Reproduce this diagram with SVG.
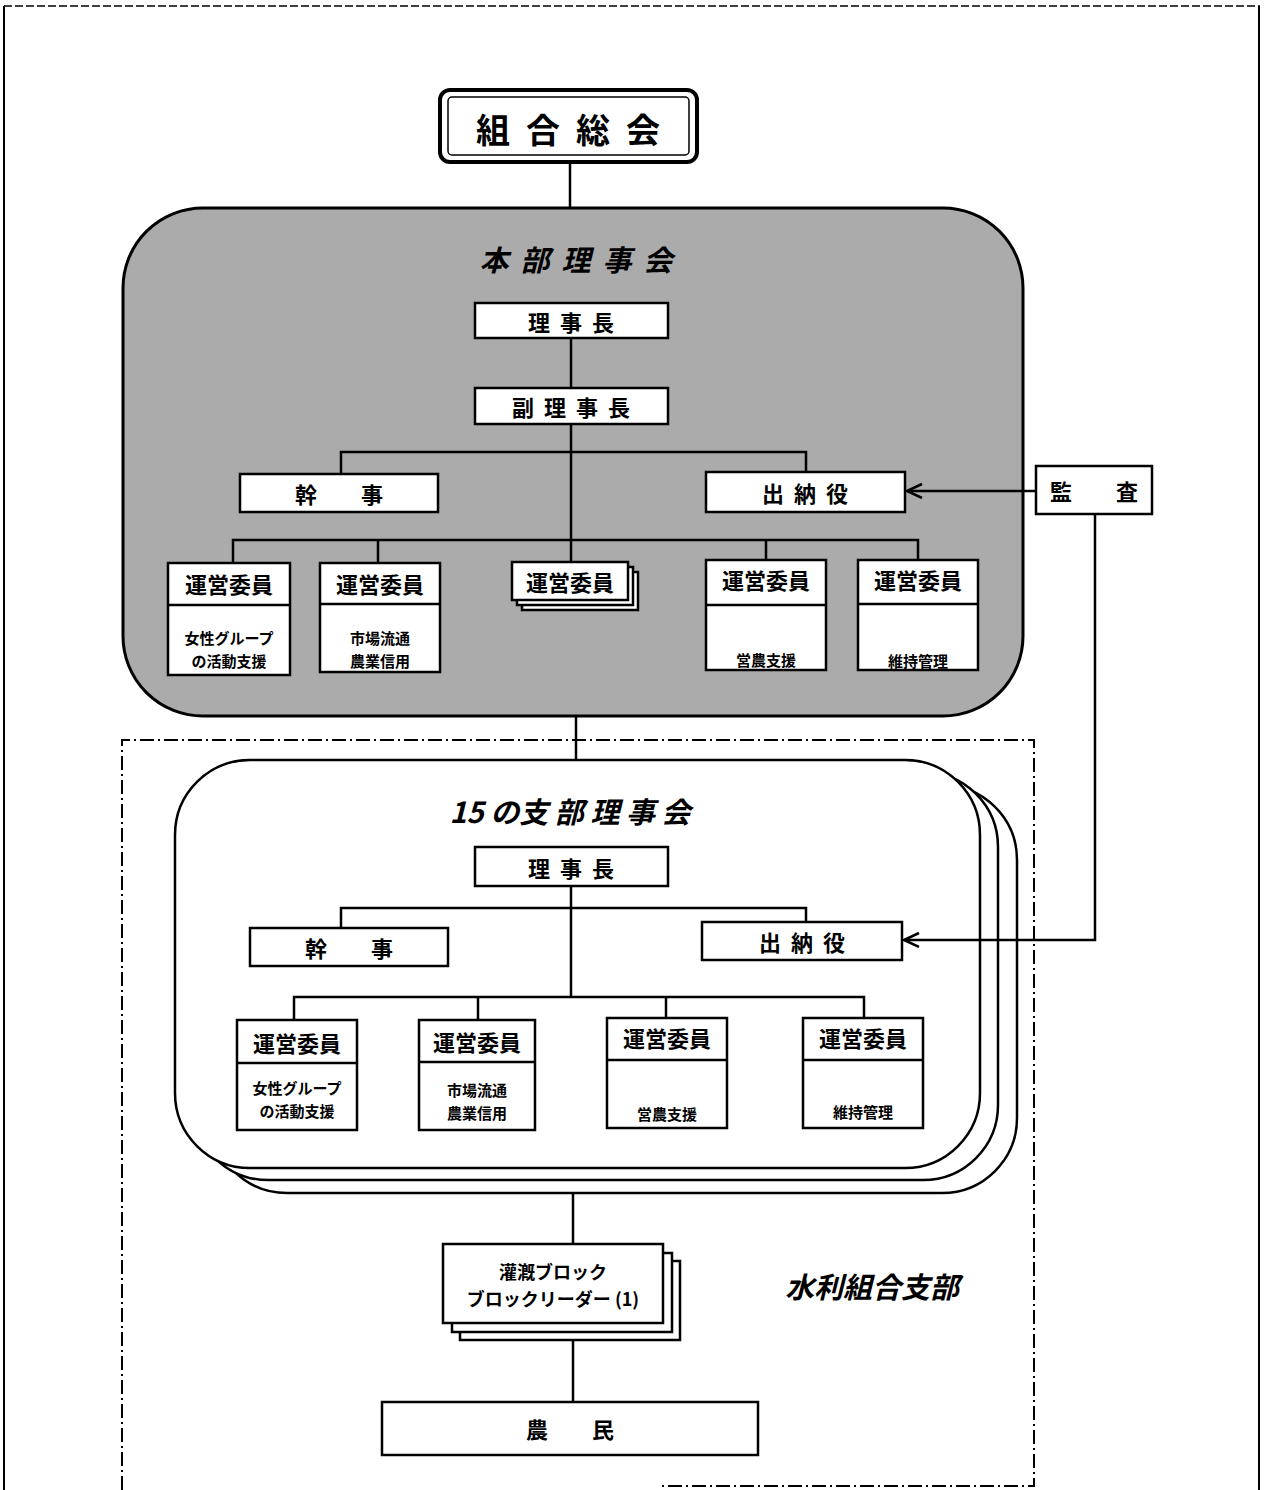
<svg xmlns="http://www.w3.org/2000/svg" width="1265" height="1490" viewBox="0 0 1265 1490">
<style>
text{font-family:"Noto Sans CJK JP","Noto Sans CJK SC",sans-serif;font-weight:bold;fill:#000;text-anchor:middle;dominant-baseline:central}
.box{fill:#fff;stroke:#000;stroke-width:2.5}
.ln{fill:none;stroke:#000;stroke-width:2.5}
.t{font-size:22px}
.s{font-size:15px}
.title{font-size:29px;font-style:italic}
</style>
<defs>
<marker id="arr" markerWidth="20" markerHeight="20" refX="16" refY="8" orient="auto" markerUnits="userSpaceOnUse">
<path d="M1,1 L16,8 L1,15" fill="none" stroke="#000" stroke-width="2.5"/>
</marker>
</defs>
<rect width="1265" height="1490" fill="#fff"/>
<!-- outer frame -->
<g id="frame">
<line x1="4" y1="6" x2="1260" y2="6" stroke="#000" stroke-width="1.5" stroke-dasharray="8 3"/>
<line x1="4" y1="6" x2="4" y2="1490" stroke="#000" stroke-width="2"/>
<line x1="1259" y1="6" x2="1259" y2="1490" stroke="#000" stroke-width="2"/>
<path d="M122,1490 V740 H1034 V1486 H660" fill="none" stroke="#000" stroke-width="2" stroke-dasharray="14 4 2 4"/>
</g>
<!-- HQ board -->
<g id="hq-board">
<rect x="123" y="208" width="900" height="508" rx="80" fill="#ababab" stroke="#000" stroke-width="3"/>
<text x="582" y="258" class="title" letter-spacing="12">本部理事会</text>
</g>
<!-- branch board stack -->
<g id="branch-board">
<rect x="212" y="785" width="805" height="408" rx="75" fill="#fff" stroke="#000" stroke-width="2.5"/>
<rect x="193" y="772" width="805" height="408" rx="75" fill="#fff" stroke="#000" stroke-width="2.5"/>
<rect x="175" y="760" width="805" height="408" rx="75" fill="#fff" stroke="#000" stroke-width="2.5"/>
<text x="570" y="810" class="title" font-size="27">15 の支 部 理 事 会</text>
</g>
<!-- connectors -->
<g id="connectors">
<line class="ln" x1="570" y1="162" x2="570" y2="208"/>
<line class="ln" x1="571" y1="338" x2="571" y2="388"/>
<line class="ln" x1="571" y1="424" x2="571" y2="562"/>
<polyline class="ln" points="341,474 341,452 806,452 806,472"/>
<polyline class="ln" points="233,563 233,540 918,540 918,560"/>
<line class="ln" x1="378" y1="540" x2="378" y2="563"/>
<line class="ln" x1="766" y1="540" x2="766" y2="560"/>
<line class="ln" x1="1036" y1="491" x2="907" y2="491" marker-end="url(#arr)"/>
<polyline class="ln" points="1095,514 1095,940 904,940" marker-end="url(#arr)"/>
<line class="ln" x1="576" y1="716" x2="576" y2="760"/>
<line class="ln" x1="571" y1="886" x2="571" y2="997"/>
<polyline class="ln" points="341,928 341,908 806,908 806,922"/>
<polyline class="ln" points="294,1020 294,997 864,997 864,1018"/>
<line class="ln" x1="478" y1="997" x2="478" y2="1020"/>
<line class="ln" x1="666" y1="997" x2="666" y2="1018"/>
<line class="ln" x1="573" y1="1193" x2="573" y2="1244"/>
<line class="ln" x1="573" y1="1340" x2="573" y2="1402"/>
</g>
<!-- nodes -->
<g id="general-assembly">
<rect x="440" y="90" width="257" height="72" rx="10" fill="#fff" stroke="#000" stroke-width="4"/>
<rect x="448" y="97" width="241" height="58" rx="4" fill="none" stroke="#000" stroke-width="1.5"/>
<text x="576" y="128" font-size="34" letter-spacing="16">組合総会</text>
</g>
<g id="hq-chair"><rect class="box" x="475" y="303" width="193" height="35"/><text class="t" x="576" y="321" letter-spacing="10">理事長</text></g>
<g id="hq-vice"><rect class="box" x="475" y="388" width="193" height="36"/><text class="t" x="576" y="406" letter-spacing="10">副理事長</text></g>
<g id="hq-kanji"><rect class="box" x="240" y="474" width="198" height="38"/><text class="t" x="339" y="493">幹　　事</text></g>
<g id="hq-suitou"><rect class="box" x="706" y="472" width="199" height="40"/><text class="t" x="810" y="492" letter-spacing="10">出納役</text></g>
<g id="kansa"><rect class="box" x="1036" y="466" width="116" height="48"/><text class="t" x="1094" y="490">監　　査</text></g>
<g id="hq-c1"><rect class="box" x="168" y="563" width="122" height="112"/><line class="ln" x1="168" y1="605" x2="290" y2="605"/><text class="t" x="229" y="583">運営委員</text><text class="s" x="229" y="637">女性グループ</text><text class="s" x="229" y="660">の活動支援</text></g>
<g id="hq-c2"><rect class="box" x="320" y="563" width="120" height="109"/><line class="ln" x1="320" y1="604" x2="440" y2="604"/><text class="t" x="380" y="583">運営委員</text><text class="s" x="380" y="637">市場流通</text><text class="s" x="380" y="660">農業信用</text></g>
<g id="hq-c3"><rect class="box" x="522" y="572" width="116" height="38"/><rect class="box" x="517" y="567" width="116" height="38"/><rect class="box" x="512" y="562" width="116" height="38"/><text class="t" x="570" y="581">運営委員</text></g>
<g id="hq-c4"><rect class="box" x="706" y="560" width="120" height="110"/><line class="ln" x1="706" y1="605" x2="826" y2="605"/><text class="t" x="766" y="579">運営委員</text><text class="s" x="766" y="659">営農支援</text></g>
<g id="hq-c5"><rect class="box" x="858" y="560" width="120" height="110"/><line class="ln" x1="858" y1="604" x2="978" y2="604"/><text class="t" x="918" y="579">運営委員</text><text class="s" x="918" y="660">維持管理</text></g>
<g id="br-chair"><rect class="box" x="475" y="847" width="193" height="39"/><text class="t" x="576" y="867" letter-spacing="10">理事長</text></g>
<g id="br-kanji"><rect class="box" x="250" y="928" width="198" height="38"/><text class="t" x="349" y="947">幹　　事</text></g>
<g id="br-suitou"><rect class="box" x="702" y="922" width="200" height="38"/><text class="t" x="807" y="941" letter-spacing="10">出納役</text></g>
<g id="br-c1"><rect class="box" x="237" y="1020" width="120" height="110"/><line class="ln" x1="237" y1="1063" x2="357" y2="1063"/><text class="t" x="297" y="1042">運営委員</text><text class="s" x="297" y="1087">女性グループ</text><text class="s" x="297" y="1110">の活動支援</text></g>
<g id="br-c2"><rect class="box" x="419" y="1020" width="116" height="110"/><line class="ln" x1="419" y1="1062" x2="535" y2="1062"/><text class="t" x="477" y="1041">運営委員</text><text class="s" x="477" y="1089">市場流通</text><text class="s" x="477" y="1112">農業信用</text></g>
<g id="br-c3"><rect class="box" x="607" y="1018" width="120" height="110"/><line class="ln" x1="607" y1="1060" x2="727" y2="1060"/><text class="t" x="667" y="1037">運営委員</text><text class="s" x="667" y="1113">営農支援</text></g>
<g id="br-c4"><rect class="box" x="803" y="1018" width="120" height="110"/><line class="ln" x1="803" y1="1060" x2="923" y2="1060"/><text class="t" x="863" y="1037">運営委員</text><text class="s" x="863" y="1111">維持管理</text></g>
<g id="block"><rect class="box" x="460" y="1261" width="220" height="79"/><rect class="box" x="452" y="1253" width="220" height="79"/><rect class="box" x="443" y="1244" width="220" height="79"/><text x="553" y="1271" font-size="18">灌漑ブロック</text><text x="553" y="1298" font-size="18">ブロックリーダー (1)</text></g>
<g id="branch-label"><text class="title" x="872" y="1285">水利組合支部</text></g>
<g id="farmers"><rect class="box" x="382" y="1402" width="376" height="53"/><text class="t" x="570" y="1428">農　　民</text></g>
</svg>
